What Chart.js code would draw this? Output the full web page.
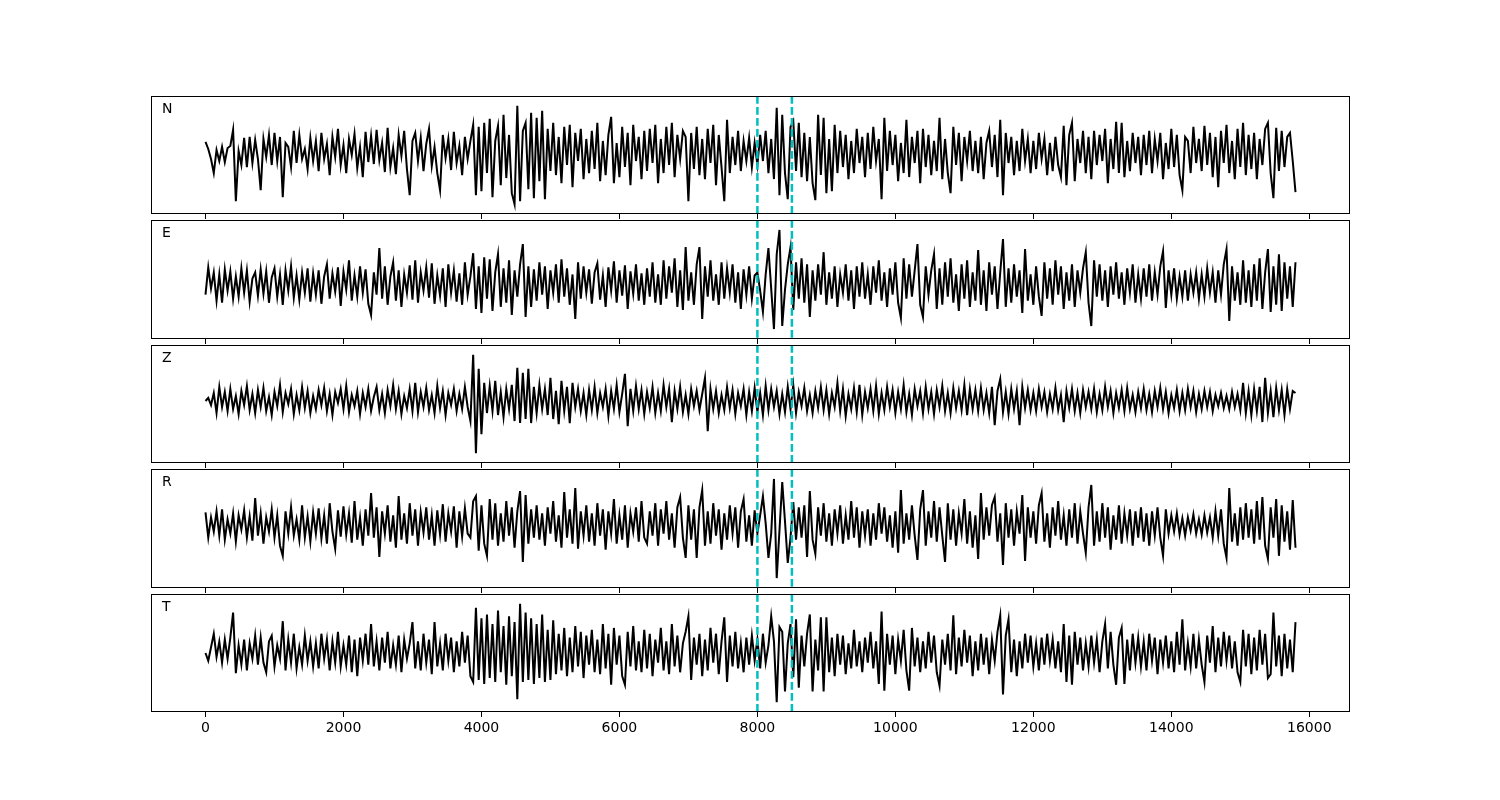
<!DOCTYPE html>
<html>
<head>
<meta charset="utf-8">
<script src="https://cdn.jsdelivr.net/npm/chart.js@4/dist/chart.umd.min.js"></script>
<style>
  body { margin: 0; background: #fff; width: 1500px; height: 800px; position: relative; overflow: hidden; }
  canvas { position: absolute; left: 0; }
</style>
</head>
<body>
<canvas id="p0" width="1500"></canvas>
<canvas id="p1" width="1500"></canvas>
<canvas id="p2" width="1500"></canvas>
<canvas id="p3" width="1500"></canvas>
<canvas id="p4" width="1500"></canvas>
<script>
// channel names, one panel each
const channels = ['N', 'E', 'Z', 'R', 'T'];
const sampleStep = 40;          // samples are every 40 units on the x axis
const pickTimes = [8000, 8500]; // dashed cyan markers
const xTicks = [0, 2000, 4000, 6000, 8000, 10000, 12000, 14000, 16000];
const xMin = -790, xMax = 16590;

// traces (relative amplitude, up = positive)
const traceN = [
  11, 4, -6, -20, 3, -8, 6, -9, 5, 7, 23, -48, 2, -12, 15, -14, 16, -10, 13, -6,
  -37, 14, -4, 18, -12, 20, -8, 16, -44, 10, 6, -14, 22, -10, 18, -6, 4, -16, 15, -8,
  12, -18, 20, -6, 9, -22, 16, -4, 24, -12, 8, -20, 14, -2, 19, -15, 6, -24, 21, -9,
  17, -11, 23, -7, 10, -19, 25, -14, 5, -21, 18, -3, 22, -16, -42, 12, 20, -8, 15, -18,
  9, 24, -13, 6, -20, -37, 18, -5, 14, -17, 21, -10, 7, -22, 16, -6, 12, 28, -42, 26,
  -38, 30, -20, 34, -44, 12, 27, -32, 38, -25, 18, -40, -51, 47, -48, 22, 30, -36, 40, -45,
  35, -28, 42, -46, 24, -18, 30, -22, 16, -30, 26, -12, 28, -34, 20, -8, 24, -26, 14, -20,
  22, -16, 30, -28, 12, -22, 18, 36, -30, 10, -24, 26, -14, 20, -32, 28, -8, 16, -26, 22,
  -18, 24, -10, 28, -30, 14, -20, 26, -12, 30, -24, 18, -6, 22, 16, -48, 20, -16, 26, -22,
  14, -26, 24, -10, 28, -32, 18, -14, -48, 33, -20, 16, -12, 22, -18, 12, -8, 15, -14, 10,
  -12, 18, -8, 22, -20, 14, -26, 45, -42, 38, -20, -46, 26, 32, -18, 30, -24, 20, -28, 16,
  -30, -47, 38, -22, 35, -40, 14, -38, 28, -20, 22, -14, 18, -26, 12, -20, 24, -10, 16, -24,
  20, -16, 26, -8, 14, -46, 35, -18, 22, -12, 18, -28, 10, -20, 33, -24, 16, -10, 22, -30,
  24, -14, 18, -22, 12, -18, 35, -26, 14, -20, -40, 26, -12, 20, -28, 16, -8, 22, -18, 12,
  -20, 16, -26, 10, 22, -14, 18, -24, 33, -42, 20, -10, 16, -22, 12, -18, 24, -8, 14, -20,
  12, -16, 20, -6, 14, -22, 10, -18, 16, -12, -24, 27, -32, 18, 30, -28, 14, -10, 22, -20,
  16, -26, 22, -12, 18, -8, 24, -30, 14, -16, 31, -20, 30, -24, 12, -18, 20, -10, 16, -22,
  18, -12, 22, -20, 14, -8, 20, -26, 10, -16, 24, -14, 18, -22, -37, 16, 12, -20, 26, -10,
  14, -18, 27, -12, 20, -24, 16, -34, 22, -10, 28, -20, 12, -26, 24, -14, 30, -22, 18, -16,
  20, -26, 14, -12, 24, 30, -20, -45, 25, -18, 22, -14, 16, 20, -8, -39
];
const traceE = [
  -10, 17, -4, 12, -16, 10, -18, 15, -6, 13, -14, 8, -12, 16, -8, 14, -17, 6, 12, -11,
  15, -9, 13, -18, 7, 16, -12, 10, -20, 14, -6, 18, -13, 9, -15, 12, -8, 16, -17, 11,
  -10, 14, -19, 8, 20, -14, 11, -7, 17, -21, 13, -5, 24, -16, 9, -12, 18, -8, 15, -19,
  -30, 12, -10, 36, -14, 18, -20, 8, 22, -16, 14, -22, 10, -8, 19, -15, 24, -18, 12, -6,
  17, -13, 21, -19, 9, -11, 16, -22, 20, -8, 14, -17, 11, -20, 22, -10, 8, 31, -24, 18,
  -28, 27, -14, 25, -26, 12, 30, -22, 16, -18, 24, -30, 14, -12, 20, 40, -32, 18, -22, 15,
  -16, 22, -10, 18, -24, 14, -8, 20, -18, 25, -12, 16, -20, 10, -34, 22, -14, 18, -8, 15,
  -19, 12, 21, -15, 9, -22, 17, -6, 23, -18, 14, -11, 19, -24, 13, -9, 20, -16, 11, -20,
  16, -12, 22, -18, 10, -20, 24, -14, 18, -8, 26, -22, 14, -25, 37, -16, 12, -20, 20, 37,
  -34, 18, -12, 24, -16, 10, -20, 22, -14, 16, -8, 20, -18, 12, -24, 15, -10, 18, -14, 9,
  12, -6, -27, 10, 36, -4, -44, 30, 54, -41, -5, 20, 37, -25, 22, -14, 26, -18, 20, -32,
  14, -16, 20, -10, 32, -20, 12, -14, 18, -22, 10, -8, 20, -16, 14, -24, 18, -12, 22, -14,
  10, -20, 18, -8, 24, -16, 12, -22, 16, -10, 22, -18, -33, 26, -14, 20, -12, 14, 40, -20,
  -32, 18, -10, 14, 30, -24, 16, -20, 22, -12, 26, -18, 10, -26, 20, -14, 24, -22, 12, -16,
  34, -20, 14, -26, 22, -10, 18, -24, 12, 45, -22, 16, -18, 20, -12, 14, -28, 35, -16, 10,
  -20, 18, -12, -31, 22, -14, 16, -20, 24, -10, 18, -24, 12, -16, 20, -22, 14, -8, 16, 32,
  -18, -41, 24, -12, 20, -16, 14, -22, 18, -10, 22, -14, 12, -20, 16, -8, 20, -18, 10, -14,
  16, -12, 20, -16, 12, -10, 18, 33, -23, 14, -10, 16, -14, 8, -12, 14, -16, 10, -8, 12,
  -14, 10, -12, 16, -8, 12, -18, 14, -10, 20, 35, -36, 18, -16, 12, -20, 24, -18, 14, -22,
  20, -16, 26, -24, 12, 35, -27, 18, -20, 30, -26, 22, -14, 18, -22, 22
];
const traceZ = [
  0, 3, -4, 8, -12, 14, -6, 9, -10, 12, -8, 5, -13, 10, -4, 15, -9, 7, -12, 11,
  -6, 13, -10, 4, -14, 9, -5, 16, -11, 8, -3, 12, -13, 6, -9, 14, -7, 10, -12, 5,
  -8, 11, -4, 13, -10, 7, -14, 9, -2, 12, -8, 15, -11, 6, -5, 10, -13, 8, -6, 12,
  -10, 4, 14, -9, 7, -12, 11, -5, 16, -8, 10, -13, 5, -7, 12, -10, 18, -11, 9, -6,
  13, -9, 6, -12, 15, -7, 10, -14, 8, -4, 12, -10, 7, -8, 14, -6, -20, 46, -52, 32,
  -33, 18, -12, 15, -10, 20, -14, 9, -16, 12, -8, 16, -20, 33, -22, 28, -18, 32, -22, 14,
  -12, 16, -8, 12, -14, 23, -18, 10, -23, 20, -10, 14, -22, 18, -6, 12, -10, 8, -14, 11,
  -9, 14, -12, 8, -6, 12, -15, 10, -8, 16, -11, 7, 27, -25, 12, -10, 15, -8, 11, -13,
  9, -7, 14, -12, 8, -10, 16, -6, 12, -21, 10, -8, 14, -11, 6, -13, 12, -5, 10, -9,
  7, 23, -30, 12, -8, 10, -12, 6, -9, 14, -7, 11, -13, 8, -5, 12, -14, 9, -10, 13,
  -11, 8, -14, 15, -9, 12, -6, 10, -13, 7, -11, 14, -8, 16, -12, 9, -5, 13, -10, 6,
  -12, 10, -7, 14, -9, 11, -13, 8, -6, 18, -10, 12, -15, 7, -8, 13, -11, 16, -14, 9,
  -7, 12, -10, 15, -13, 8, -9, 14, -6, 11, -12, 9, -8, 16, -11, 7, -14, 12, -5, 10,
  -12, 14, -8, 9, -13, 11, -6, 15, -10, 8, -12, 13, -7, 10, -9, 16, -14, 12, -8, 11,
  -10, 13, -9, 8, -12, 14, -24, 10, 22, -11, 9, -13, 12, -8, 10, -24, 14, -7, 11, -9,
  8, -10, 12, -6, 9, -11, 7, -8, 13, -9, 6, -21, 10, -7, 12, -10, 8, -12, 11, -6,
  9, -8, 12, -11, 7, -9, 14, -6, 10, -12, 8, -7, 11, -10, 13, -8, 6, -11, 9, -7,
  12, -9, 7, -11, 10, -6, 13, -8, 9, -12, 6, -7, 11, -10, 8, -9, 12, -6, 10, -11,
  7, -8, 10, -6, 9, -10, 6, -5, 8, -7, 5, -8, 9, -6, 7, -9, 18, -12, 10, -14,
  12, -10, 14, -21, 23, -12, 10, -16, 13, -9, 11, -14, 12, -8, 10, 8
];
const traceR = [
  13, -12, 8, -6, 14, -10, 16, -14, 6, -8, 12, -16, 10, -4, 15, -12, 9, -15, 27, -10,
  12, -18, 8, -6, 16, -12, 10, -20, -30, 14, -8, 18, -10, 6, -14, 20, -12, 9, -16, 13,
  -8, 17, -13, 10, -18, 22, -6, -23, 15, -11, 19, -9, 12, -17, 24, -14, 8, -20, 16, -10,
  32, -12, 18, -31, 14, -8, 20, -16, 10, -22, 29, -14, 12, -18, 22, -10, 16, -20, 13, -7,
  18, -14, 10, -20, 15, -9, 21, -16, 12, -6, 19, -22, 14, -11, 17, -8, -12, 24, 29, -25,
  20, -18, -30, 26, -14, 22, -20, 12, -16, 24, -10, 18, -22, 14, 34, -36, 30, -18, 16, -12,
  20, -14, 12, -20, 18, -8, 24, -16, 10, -22, 33, -12, 16, -18, 37, -23, 14, -10, 20, -16,
  12, -20, 22, -10, 16, -24, 14, -8, 26, -18, 10, -14, 20, -22, 12, -6, 18, -16, 24, -12,
  -18, 14, -10, 22, -20, 16, -8, 24, -14, 12, -22, 18, 28, -12, -32, 20, -14, 16, -32, 18,
  35, -20, 14, -18, 22, -10, 16, -24, 12, -14, 20, -8, 18, -22, 14, 26, -16, 10, -20, 15,
  -8, 10, 29, 2, -32, -8, 46, -52, -5, 43, 4, -37, -12, 23, -14, 18, -12, 20, -31, 34,
  -14, -28, 18, -10, 22, -16, 12, -20, 16, -8, 20, -18, 10, -14, 24, -12, 18, -22, 14, -10,
  16, -20, 12, -14, 22, -8, 18, -16, 10, -22, 14, -27, 35, -18, 12, -14, 20, -10, -34, 16,
  35, -20, 14, -12, 24, -16, 18, -10, -36, 22, -14, 16, -20, 12, -8, 26, -18, 14, -22, 10,
  -33, 32, -14, 18, -10, 20, 28, -16, 12, -39, 22, -12, 16, -20, 14, -8, 30, -35, 18, -12,
  14, -18, 20, 32, -16, 12, -22, 18, -10, 24, -14, 10, -20, 16, -12, 22, -18, 14, -8, -27,
  18, 40, -20, 14, -16, 22, -12, 18, -24, 10, -14, 20, -18, 12, -10, 16, -20, 14, -12, 18,
  -16, 12, -20, 14, -10, 18, -12, -30, 16, -8, 10, -6, 12, -9, 7, -10, 8, -5, 11, -8,
  6, -9, 10, -7, 8, -12, 14, -10, 16, -18, -32, 37, -16, 12, -20, 18, -14, 22, -12, 16,
  -18, 24, -14, 28, -20, -33, 18, -12, 26, -30, 20, -16, 14, -24, 25, -22
];
const traceT = [
  0, -8, 6, 20, -4, 12, -10, 14, -6, 16, 42, -21, 8, -12, 14, -18, 10, -6, 18, -12,
  16, -10, -20, 12, 18, -14, 8, -6, 33, -18, 14, -10, 20, -16, 6, -12, 18, -8, 12, -14,
  10, -16, 20, -6, 14, -18, 12, -10, 22, -14, 8, -12, 18, -20, 14, -24, 16, -8, 20, -12,
  30, -14, 12, -18, 16, -10, 22, -16, 8, -12, 18, -20, 14, -6, 10, 32, -16, 12, -18, 20,
  -10, 14, -22, 32, -14, 10, -18, 20, -8, 16, -20, 12, -14, 22, -10, 18, -24, -30, 47, -28,
  36, -32, 40, -26, 30, -30, 44, -20, 28, -33, 38, -24, 32, -48, 51, -30, 42, -28, 36, -32,
  30, -26, 40, -30, 24, -28, 34, -22, 20, -18, 26, -24, 16, -20, 28, -14, 22, -26, 18, -12,
  24, -20, 14, -22, 30, -16, 20, -33, 26, -12, 18, -24, -33, 22, -14, 28, -18, 12, -20, 24,
  -16, 20, -24, 14, -10, 26, -18, 12, -22, 30, -14, 18, -20, 10, 22, 38, -28, 16, -12, 20,
  -24, 14, -18, 26, -10, 20, -22, 12, 37, -30, 18, -14, 22, -16, 10, -20, 16, -12, 18, -8,
  14, -16, 20, -10, 8, 38, 12, -51, 27, 22, -40, 10, 30, -25, 35, -36, 18, -14, 20, 40,
  -40, 14, -18, 37, -40, 37, -20, 16, -24, 20, -12, 18, -22, 10, -16, 24, -14, 12, -20, 16,
  -10, 22, -16, 12, -32, 43, -39, 20, -12, 18, -22, 14, -8, 24, -18, -39, 26, -14, 16, -20,
  12, -16, 22, -10, 18, -20, -34, 14, -12, 20, -18, 39, -22, 16, -14, 24, -10, 18, -24, 12,
  -18, 20, -12, 16, -22, 14, -8, 22, 39, -43, 18, 35, -20, 14, -24, 12, -16, 20, -10, 18,
  -14, 10, -18, 16, -12, 20, -8, 14, -16, 12, -20, 30, -30, 18, -33, 22, -12, 16, -18, 10,
  -14, 18, -10, 14, -20, 12, 30, -16, 22, -12, -33, 16, 26, -32, 14, -18, 20, -10, 16, -14,
  12, -18, 20, -8, 16, -22, 14, -10, 18, -16, 12, -20, 22, -12, 35, -18, 10, -14, 20, -16,
  14, -12, -30, 18, -10, 28, -20, 16, -14, 22, -8, 18, -16, 12, -20, -30, 24, -14, 20, -22,
  16, -18, 24, -12, 20, -26, -22, 42, -14, 18, -24, 20, -16, 14, -20, 32
];
const traces = [traceN, traceE, traceZ, traceR, traceT];

// panel frames in page pixels (top, height)
const panelTop = [96, 220, 345, 469, 594];
const panelH = [118, 119, 118, 119, 118];

const frameAndLabels = {
  id: 'frameAndLabels',
  afterDatasetsDraw(chart, args, opts) {
    const { ctx, chartArea: a, scales } = chart;
    ctx.save();
    // dashed pick lines
    ctx.strokeStyle = '#00bfbf';
    ctx.lineWidth = 2.5;
    ctx.setLineDash([7.7, 3.3]);
    pickTimes.forEach(t => {
      const x = scales.x.getPixelForValue(t);
      ctx.beginPath();
      ctx.moveTo(x, a.top);
      ctx.lineTo(x, a.bottom);
      ctx.stroke();
    });
    ctx.setLineDash([]);
    // frame
    ctx.strokeStyle = '#000';
    ctx.lineWidth = 1;
    ctx.strokeRect(Math.round(a.left) + 0.5, Math.round(a.top) + 0.5,
                   Math.round(a.right - a.left) - 1, Math.round(a.bottom - a.top) - 1);
    // channel name
    ctx.fillStyle = '#000';
    ctx.font = '14px "DejaVu Sans"';
    ctx.textBaseline = 'alphabetic';
    ctx.fillText(opts.label, a.left + 11, a.top + 17);
    ctx.restore();
  }
};

channels.forEach((name, k) => {
  const last = k === channels.length - 1;
  const axisH = last ? 30 : 6;
  const cv = document.getElementById('p' + k);
  cv.height = 2 + panelH[k] + axisH;
  cv.style.top = (panelTop[k] - 2) + 'px';

  const ys = traces[k];
  const lo = Math.min(...ys), hi = Math.max(...ys);
  const pad = (hi - lo) * 0.1;

  new Chart(cv, {
    type: 'line',
    data: {
      datasets: [{
        data: ys.map((v, i) => ({ x: i * sampleStep, y: v })),
        borderColor: '#000',
        borderWidth: 2,
        pointRadius: 0,
        tension: 0,
        fill: false
      }]
    },
    options: {
      responsive: false,
      animation: false,
      devicePixelRatio: 1,
      layout: { padding: { left: 151, right: 150, top: 2, bottom: 0 } },
      plugins: {
        legend: { display: false },
        tooltip: { enabled: false },
        frameAndLabels: { label: name }
      },
      scales: {
        x: {
          type: 'linear',
          min: xMin,
          max: xMax,
          afterBuildTicks: s => { s.ticks = xTicks.map(v => ({ value: v })); },
          afterFit: s => { s.height = axisH; },
          border: { display: false },
          grid: { drawOnChartArea: false, drawTicks: true, tickLength: 5, color: '#000', lineWidth: 1 },
          ticks: {
            display: last,
            autoSkip: false,
            maxRotation: 0,
            padding: 3,
            color: '#000',
            font: { family: 'DejaVu Sans', size: 14 },
            callback: v => String(v)
          }
        },
        y: { display: false, min: lo - pad, max: hi + pad }
      }
    },
    plugins: [frameAndLabels]
  });
});
</script>
</body>
</html>
